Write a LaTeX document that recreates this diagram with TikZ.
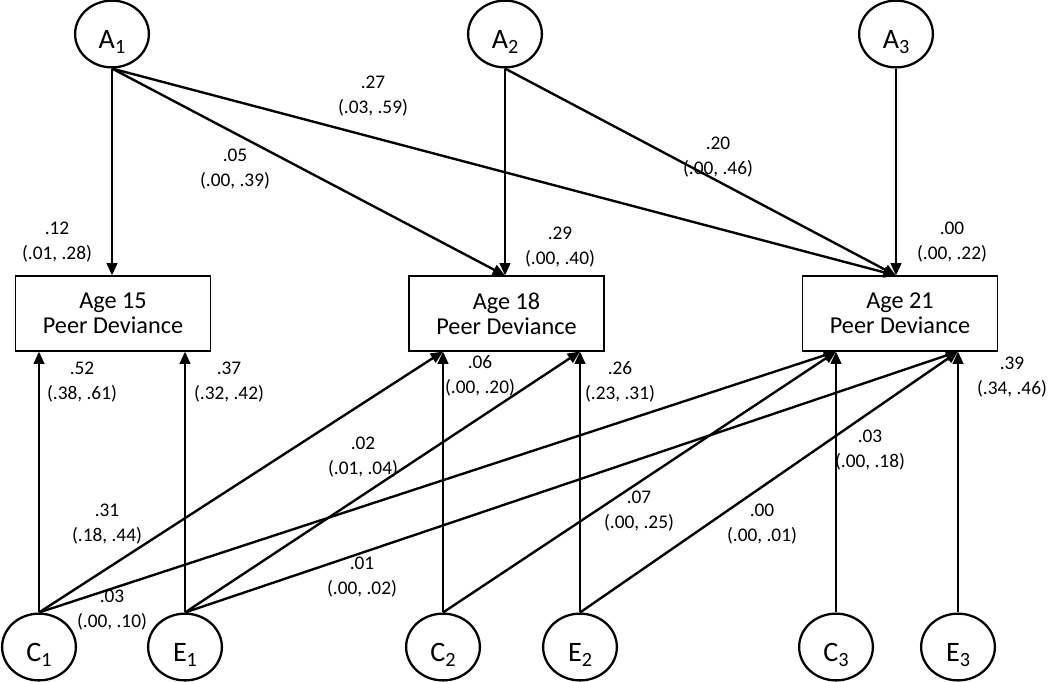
\documentclass[tikz,border=0pt]{standalone}
\usepackage{fontspec}
\setmainfont{Carlito}
\usetikzlibrary{shapes.geometric,arrows.meta}
\newcommand{\latsub}[1]{\raisebox{-2.8pt}{\fontsize{11.5}{12}\selectfont #1}}
\begin{document}
\begin{tikzpicture}[x=0.02cm,y=-0.02cm,
latentnode/.style={ellipse, draw, line width=1.3pt, minimum width=42pt, minimum height=38pt, inner sep=0pt, text height=18pt, text depth=1pt, font=\fontsize{16}{18}\selectfont},
boxnode/.style={rectangle, draw, line width=0.8pt, minimum width=111pt, minimum height=42.5pt, align=center, inner sep=0pt, font=\fontsize{13.8}{14.2}\selectfont},
estnode/.style={align=center, inner sep=0pt, font=\fontsize{11}{14.2}\selectfont},
pathline/.style={line width=1.35pt, -{Triangle[length=7pt,width=6pt]}},
]
\useasboundingbox (0,0) rectangle (1050,681);
%Nodes
\node[latentnode]  (A1)    at (112,34)  {A\latsub{1}};
\node[latentnode]  (A2)    at (505,34)  {A\latsub{2}};
\node[latentnode]  (A3)    at (896,34)  {A\latsub{3}};
\node[boxnode]     (age15) at (113,313.5) {Age 15\\Peer Deviance};
\node[boxnode]     (age18) at (506.5,313.5) {Age 18\\Peer Deviance};
\node[boxnode]     (age21) at (900,313.5) {Age 21\\Peer Deviance};
\node[latentnode]  (C1)    at (39,647)  {C\latsub{1}};
\node[latentnode]  (E1)    at (185,647) {E\latsub{1}};
\node[latentnode]  (C2)    at (443,647) {C\latsub{2}};
\node[latentnode]  (E2)    at (580,647) {E\latsub{2}};
\node[latentnode]  (C3)    at (836,647) {C\latsub{3}};
\node[latentnode]  (E3)    at (958,647) {E\latsub{3}};

%Lines
\draw[pathline] (A1.south) -- (A1.south |- age15.north);
\draw[pathline] (A1.south) -- (A2.south |- age18.north);
\draw[pathline] (A1.south) -- (A3.south |- age21.north);
\draw[pathline] (A2.south) -- (A2.south |- age18.north);
\draw[pathline] (A2.south) -- (A3.south |- age21.north);
\draw[pathline] (A3.south) -- (A3.south |- age21.north);
\draw[pathline] (C1.north) -- (C1.north |- age15.south);
\draw[pathline] (C1.north) -- (C2.north |- age18.south);
\draw[pathline] (C1.north) -- (C3.north |- age21.south);
\draw[pathline] (E1.north) -- (E1.north |- age15.south);
\draw[pathline] (E1.north) -- (E2.north |- age18.south);
\draw[pathline] (E1.north) -- (E3.north |- age21.south);
\draw[pathline] (C2.north) -- (C2.north |- age18.south);
\draw[pathline] (C2.north) -- (C3.north |- age21.south);
\draw[pathline] (E2.north) -- (E2.north |- age18.south);
\draw[pathline] (E2.north) -- (E3.north |- age21.south);
\draw[pathline] (C3.north) -- (C3.north |- age21.south);
\draw[pathline] (E3.north) -- (E3.north |- age21.south);

%Estimates
\node[estnode] (a11) at (57,242)  {.12\\(.01, .28)};
\node[estnode] (a12) at (235,169) {.05\\(.00, .39)};
\node[estnode] (a13) at (373,96)  {.27\\(.03, .59)};
\node[estnode] (a22) at (560,247) {.29\\(.00, .40)};
\node[estnode] (a23) at (718,157) {.20\\(.00, .46)};
\node[estnode] (a33) at (952,242) {.00\\(.00, .22)};
\node[estnode] (c11) at (82,382)  {.52\\(.38, .61)};
\node[estnode] (e11) at (229,382) {.37\\(.32, .42)};
\node[estnode] (c12) at (107,524) {.31\\(.18, .44)};
\node[estnode] (c13) at (112,610) {.03\\(.00, .10)};
\node[estnode] (e12) at (363,457) {.02\\(.01, .04)};
\node[estnode] (e13) at (362,577) {.01\\(.00, .02)};
\node[estnode] (c22) at (480,376) {.06\\(.00, .20)};
\node[estnode] (e22) at (620,382) {.26\\(.23, .31)};
\node[estnode] (c23) at (639,511) {.07\\(.00, .25)};
\node[estnode] (c33) at (870,450) {.03\\(.00, .18)};
\node[estnode] (e23) at (762,524) {.00\\(.00, .01)};
\node[estnode] (e33) at (1012,377) {.39\\(.34, .46)};
\end{tikzpicture}
\end{document}
